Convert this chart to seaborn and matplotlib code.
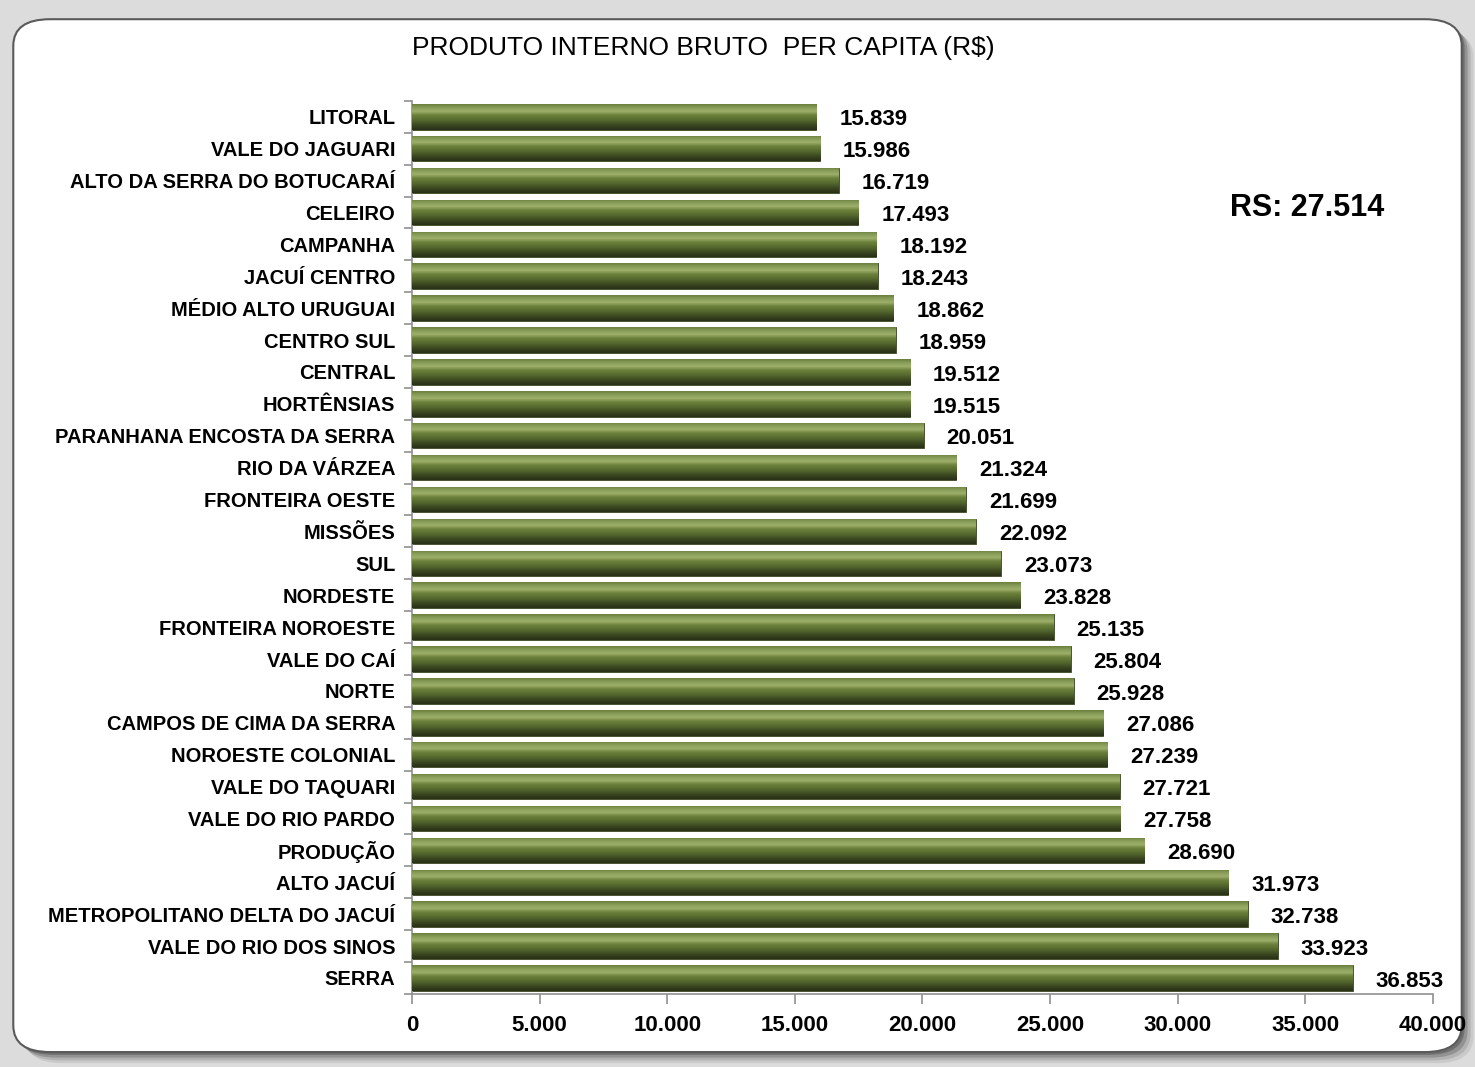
import numpy as np
import pandas as pd
import matplotlib
matplotlib.use("Agg")
import matplotlib.pyplot as plt
import seaborn as sns
from matplotlib.patches import FancyBboxPatch
from matplotlib.colors import LinearSegmentedColormap

regions = ["LITORAL", "VALE DO JAGUARI", "ALTO DA SERRA DO BOTUCARAÍ", "CELEIRO",
           "CAMPANHA", "JACUÍ CENTRO", "MÉDIO ALTO URUGUAI", "CENTRO SUL", "CENTRAL",
           "HORTÊNSIAS", "PARANHANA ENCOSTA DA SERRA", "RIO DA VÁRZEA", "FRONTEIRA OESTE",
           "MISSÕES", "SUL", "NORDESTE", "FRONTEIRA NOROESTE", "VALE DO CAÍ", "NORTE",
           "CAMPOS DE CIMA DA SERRA", "NOROESTE COLONIAL", "VALE DO TAQUARI",
           "VALE DO RIO PARDO", "PRODUÇÃO", "ALTO JACUÍ", "METROPOLITANO DELTA DO JACUÍ",
           "VALE DO RIO DOS SINOS", "SERRA"]
pib_per_capita = [15839, 15986, 16719, 17493, 18192, 18243, 18862, 18959, 19512,
                  19515, 20051, 21324, 21699, 22092, 23073, 23828, 25135, 25804, 25928,
                  27086, 27239, 27721, 27758, 28690, 31973, 32738, 33923, 36853]
x_ticks = [0, 5000, 10000, 15000, 20000, 25000, 30000, 35000, 40000]
title = "PRODUTO INTERNO BRUTO  PER CAPITA (R$)"
rs_label = "RS: 27.514"

def fmt(v):
    return f"{v:,}".replace(",", ".")

df = pd.DataFrame({"regiao": regions, "pib": pib_per_capita})

sns.set_theme(style="white")
plt.rcParams["font.family"] = ["Liberation Sans", "DejaVu Sans"]
plt.rcParams["text.color"] = "black"
plt.rcParams["xtick.labelcolor"] = "black"
plt.rcParams["ytick.labelcolor"] = "black"

fig = plt.figure(figsize=(14.75, 10.67), dpi=100)
fig.patch.set_facecolor("#dcdcdc")

# shadow + frame
for dx, a in [(0.008, 0.10), (0.006, 0.15), (0.004, 0.25), (0.002, 0.35)]:
    fig.patches.append(FancyBboxPatch((0.009 + dx, 0.014 - dx * 1.3), 0.982, 0.968,
                                      boxstyle="round,pad=0,rounding_size=0.025",
                                      transform=fig.transFigure, facecolor="#303030",
                                      edgecolor="none", alpha=a, zorder=0))
fig.patches.append(FancyBboxPatch((0.009, 0.014), 0.982, 0.968,
                                  boxstyle="round,pad=0,rounding_size=0.025",
                                  transform=fig.transFigure, facecolor="white",
                                  edgecolor="#5a5a5a", linewidth=1.5, zorder=1))

ax = fig.add_axes([0.2793, 0.0685, 0.6922, 0.837])
ax.set_facecolor("none")
ax.set_zorder(2)

sns.barplot(data=df, x="pib", y="regiao", orient="h", color="#5d7232",
            width=0.8, ax=ax, saturation=1)

grad_cmap = LinearSegmentedColormap.from_list(
    "bevel", [(0.0, "#6a7f3e"), (0.12, "#879b58"), (0.28, "#9cb06b"),
              (0.42, "#6d823c"), (0.6, "#586c2f"), (0.8, "#3d4a22"), (1.0, "#283016")])
grad = np.linspace(0, 1, 64).reshape(-1, 1)
for p in ax.patches:
    x0, y0 = p.get_x(), p.get_y()
    w, h = p.get_width(), p.get_height()
    im = ax.imshow(grad, cmap=grad_cmap, aspect="auto",
                   extent=[x0, x0 + w, y0 + h, y0], origin="upper",
                   interpolation="bilinear", zorder=3)
    im.set_clip_path(p)
    p.set_edgecolor("#3a4522")
    p.set_linewidth(0.6)

for p, v in zip(ax.patches, pib_per_capita):
    ax.text(p.get_x() + p.get_width() + 900, p.get_y() + p.get_height() / 2 + 0.1,
            fmt(v), va="center", ha="left", fontsize=16, fontweight="bold",
            color="black", zorder=5)

ax.set_xlim(0, 40000)
ax.set_ylim(len(regions) - 0.5, -0.5)
ax.set_xticks(x_ticks)
ax.set_xticklabels([fmt(t) for t in x_ticks], fontsize=16, fontweight="bold")
ax.set_yticks(range(len(regions)))
ax.set_yticklabels(regions, fontsize=14.5, fontweight="bold")
ax.set_yticks(np.arange(-0.5, len(regions), 1), minor=True)
ax.tick_params(axis="y", which="major", length=0, pad=12)
ax.tick_params(axis="y", which="minor", length=6, color="#909090", width=1.2, left=True)
ax.tick_params(axis="x", which="major", length=7, color="#909090", width=1.2,
               bottom=True, pad=8)
ax.set_xlabel("")
ax.set_ylabel("")
for s in ["top", "right"]:
    ax.spines[s].set_visible(False)
for s in ["left", "bottom"]:
    ax.spines[s].set_color("#909090")
    ax.spines[s].set_linewidth(1.2)

fig.text(0.4765, 0.955, title, ha="center", va="center", fontsize=19, color="black")
fig.text(0.886, 0.805, rs_label, ha="center", va="center", fontsize=22,
         fontweight="bold", color="black")

fig.savefig("out.png", dpi=100, facecolor=fig.get_facecolor())
